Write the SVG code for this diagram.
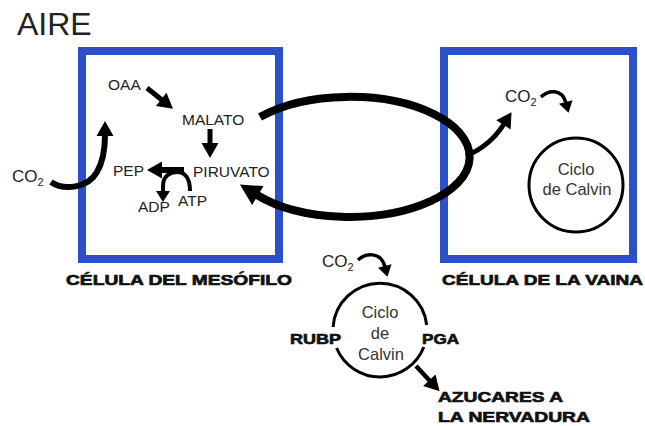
<svg xmlns="http://www.w3.org/2000/svg" width="645" height="426" viewBox="0 0 645 426">
<style>
  .t{font-family:"Liberation Sans",Arial,sans-serif;fill:#222;}
  .m{font-size:15.5px;}
  .co{font-size:17px;}
  .sub{font-size:11px;}
  .cc{font-size:16.5px;fill:#333;text-anchor:middle;}
  .b{font-family:"Liberation Sans",Arial,sans-serif;font-weight:bold;font-size:15.5px;fill:#111;stroke:#111;stroke-width:0.7;}
  .box{fill:none;stroke:#2c50c8;stroke-width:8;}
  .ln{fill:none;stroke:#000;stroke-linecap:butt;}
  .circ{fill:none;stroke:#000;stroke-width:3;}
</style>
<defs>
  <marker id="hL" markerUnits="userSpaceOnUse" markerWidth="24" markerHeight="26" refX="1" refY="11" orient="auto" overflow="visible">
    <path d="M0,0 L21,11 L0,22 Z" fill="#000"/>
  </marker>
  <marker id="hM" markerUnits="userSpaceOnUse" markerWidth="18" markerHeight="20" refX="1" refY="8.5" orient="auto" overflow="visible">
    <path d="M0,0 L15,8.5 L0,17 Z" fill="#000"/>
  </marker>
  <marker id="hS" markerUnits="userSpaceOnUse" markerWidth="14" markerHeight="16" refX="1" refY="7" orient="auto" overflow="visible">
    <path d="M0,0 L11,7 L0,14 Z" fill="#000"/>
  </marker>
</defs>
<rect width="645" height="426" fill="#fff"/>

<text class="t" x="17" y="35" font-size="32">AIRE</text>

<g id="mesofilo">
  <rect class="box" x="82" y="51" width="197" height="208"/>
  <text class="b" x="66" y="285" textLength="226" lengthAdjust="spacingAndGlyphs">CÉLULA DEL MESÓFILO</text>
</g>
<g id="vaina">
  <rect class="box" x="444" y="51" width="189" height="208"/>
  <text class="b" x="442" y="285" textLength="201" lengthAdjust="spacingAndGlyphs">CÉLULA DE LA VAINA</text>
</g>

<g id="oaa"><text class="t m" x="108" y="90">OAA</text></g>
<g id="malato"><text class="t m" x="182" y="125">MALATO</text></g>
<g id="piruvato"><text class="t m" x="193" y="177">PIRUVATO</text></g>
<g id="pep"><text class="t m" x="113" y="176">PEP</text></g>
<g id="adp"><text class="t m" x="138" y="212">ADP</text></g>
<g id="atp"><text class="t m" x="178" y="206">ATP</text></g>
<g id="co2-aire"><text class="t co" x="12" y="182">CO<tspan class="sub" dy="4">2</tspan></text></g>

<g id="calvin-vaina">
  <circle class="circ" cx="576" cy="185" r="47"/>
  <text class="t cc" x="576" y="175">Ciclo</text>
  <text class="t cc" x="577" y="195">de Calvin</text>
</g>
<g id="co2-vaina"><text class="t co" x="505" y="102">CO<tspan class="sub" dy="4">2</tspan></text></g>

<g id="calvin">
  <path class="circ" d="M333.1,327 A47,47 0 0 1 426.7,325"/>
  <path class="circ" d="M423.8,347 A47,47 0 0 1 336.6,348"/>
  <text class="t cc" x="380" y="318">Ciclo</text>
  <text class="t cc" x="380" y="339">de</text>
  <text class="t cc" x="381" y="360">Calvin</text>
</g>
<g id="co2-calvin"><text class="t co" x="322" y="267">CO<tspan class="sub" dy="4">2</tspan></text></g>
<g id="rubp"><text class="b" x="290" y="344" textLength="51" lengthAdjust="spacingAndGlyphs">RUBP</text></g>
<g id="pga"><text class="b" x="422" y="344" textLength="37" lengthAdjust="spacingAndGlyphs">PGA</text></g>
<g id="azucares">
  <text class="b" x="438" y="402" textLength="125" lengthAdjust="spacingAndGlyphs">AZUCARES A</text>
  <text class="b" x="438" y="422" textLength="152" lengthAdjust="spacingAndGlyphs">LA NERVADURA</text>
</g>

<g id="connectors">
  <path class="ln" stroke-width="6" d="M51,182 C64,191 88,188 97,172 C104,160 105,148 105,135" marker-end="url(#hM)"/>
  <path class="ln" stroke-width="5" d="M147,88 L162,100" marker-end="url(#hM)"/>
  <path class="ln" stroke-width="5" d="M210,129 L210,144" marker-end="url(#hM)"/>
  <path class="ln" stroke-width="6" d="M184,170 L161,170" marker-end="url(#hM)"/>
  <path class="ln" stroke-width="4" d="M190,191 C190,177 184,172 177,172 C170,172 163,176 163,186 L163,192" marker-end="url(#hS)"/>
  <path class="ln" stroke-width="8" d="M260,117 A120,60 0 1 1 257,195" marker-end="url(#hL)"/>
  <path class="ln" stroke-width="5" d="M466,156 C485,148 497,135 504,124" marker-end="url(#hM)"/>
  <path class="ln" stroke-width="3.5" d="M541,97 C548,90 562,88 566,103" marker-end="url(#hS)"/>
  <path class="ln" stroke-width="3.5" d="M358,260 C365,253 381,251 385,267" marker-end="url(#hS)"/>
  <path class="ln" stroke-width="4.5" d="M416,366 L430,381" marker-end="url(#hM)"/>
</g>
</svg>
